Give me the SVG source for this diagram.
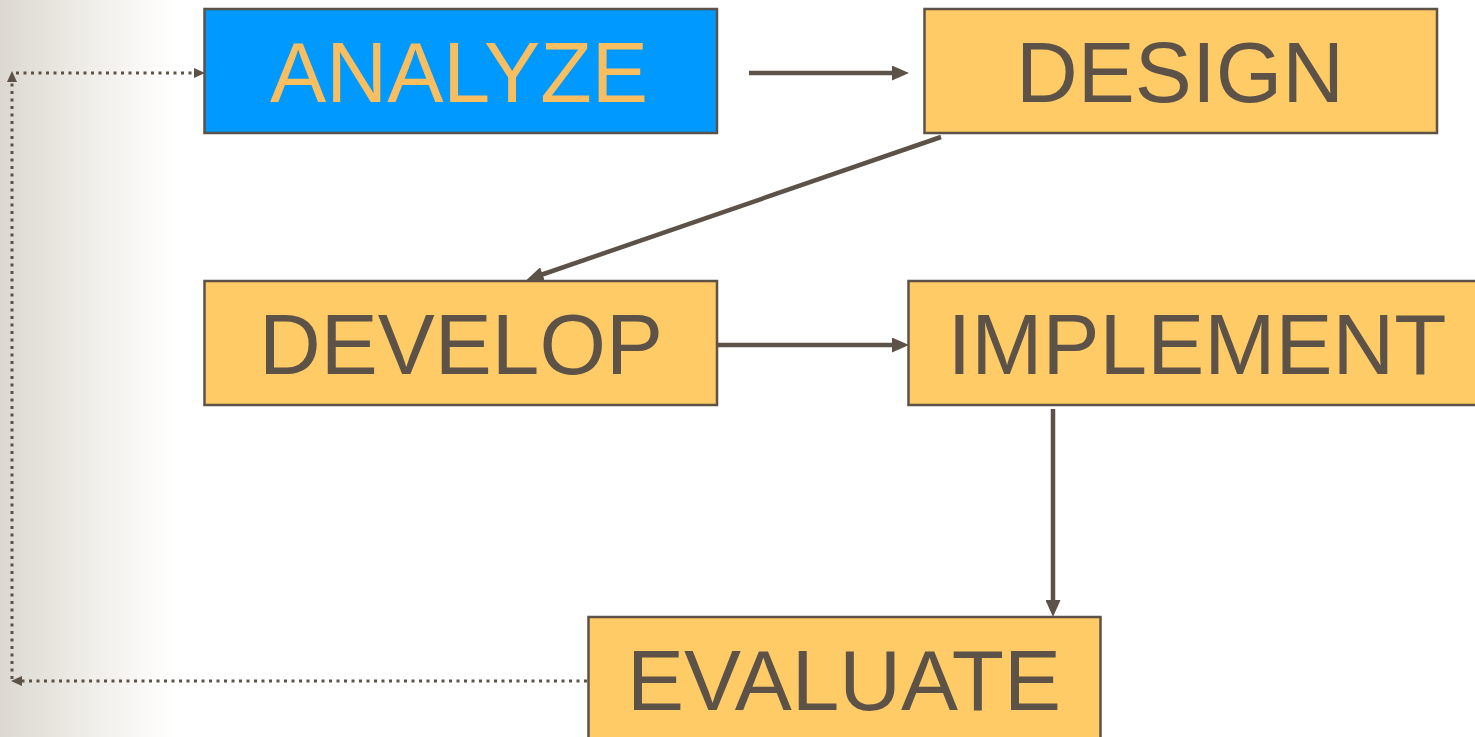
<svg xmlns="http://www.w3.org/2000/svg" width="1475" height="737" viewBox="0 0 1475 737">
<style>
.box{stroke:#5c5247;stroke-width:2.5}
.orange{fill:#fecb66}
.blue{fill:#0099ff}
.lbl{font-family:"Liberation Sans",Arial,sans-serif;font-size:85.5px;text-anchor:middle;fill:#5c5247}
.lbl-hi{fill:#f8be5f}
.solid{stroke:#5c5247;stroke-width:4.5;fill:none}
.dot{stroke:#5c5247;stroke-width:3;stroke-dasharray:3 4.5;fill:none}
</style>
<defs>
<linearGradient id="bg" x1="0" y1="0" x2="1" y2="0">
<stop offset="0" stop-color="#dcd8d1"/>
<stop offset="0.5" stop-color="#efede8"/>
<stop offset="1" stop-color="#ffffff"/>
</linearGradient>
<marker id="ah" markerUnits="userSpaceOnUse" markerWidth="17" markerHeight="15" refX="8" refY="7.5" orient="auto">
<path d="M0,0 L17,7.5 L0,15 z" fill="#5c5247"/>
</marker>
<marker id="ahs" markerUnits="userSpaceOnUse" markerWidth="11" markerHeight="10" refX="4" refY="5" orient="auto">
<path d="M0,0 L11,5 L0,10 z" fill="#5c5247"/>
</marker>
</defs>
<rect x="0" y="0" width="1475" height="737" fill="#ffffff"/>
<rect x="0" y="0" width="175" height="737" fill="url(#bg)"/>
<g id="connectors">
<line class="solid" x1="749" y1="73" x2="900" y2="73" marker-end="url(#ah)"/>
<line class="solid" x1="941" y1="137" x2="535" y2="277" marker-end="url(#ah)"/>
<line class="solid" x1="717" y1="345" x2="900" y2="345" marker-end="url(#ah)"/>
<line class="solid" x1="1053" y1="409" x2="1053" y2="608" marker-end="url(#ah)"/>
<line class="dot" x1="587" y1="681" x2="18" y2="681" marker-end="url(#ahs)"/>
<line class="dot" x1="12" y1="679" x2="12" y2="78" marker-end="url(#ahs)"/>
<line class="dot" x1="16" y1="73" x2="198" y2="73" marker-end="url(#ahs)"/>
</g>
<g id="analyze">
<rect class="box blue" x="204.5" y="9" width="512.5" height="124"/>
<text class="lbl lbl-hi" x="459" y="101.5" textLength="378" lengthAdjust="spacingAndGlyphs">ANALYZE</text>
</g>
<g id="design">
<rect class="box orange" x="924.5" y="9" width="512.5" height="124"/>
<text class="lbl" x="1180" y="101.5">DESIGN</text>
</g>
<g id="develop">
<rect class="box orange" x="204.5" y="281" width="512.5" height="124"/>
<text class="lbl" x="461" y="373.5">DEVELOP</text>
</g>
<g id="implement">
<rect class="box orange" x="908.5" y="281" width="570" height="124"/>
<text class="lbl" x="1197" y="373.5">IMPLEMENT</text>
</g>
<g id="evaluate">
<rect class="box orange" x="588.5" y="617" width="512" height="130"/>
<text class="lbl" x="844" y="709.5">EVALUATE</text>
</g>
</svg>
